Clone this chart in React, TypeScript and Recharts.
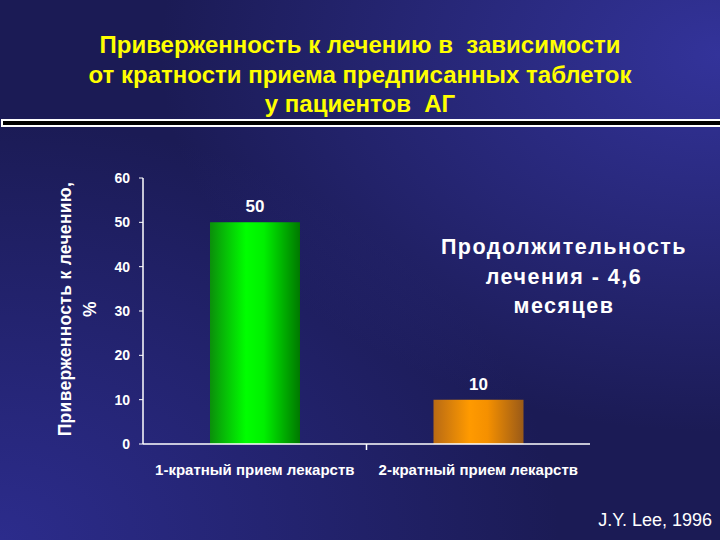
import React from 'react';
import { BarChart, Bar, XAxis, YAxis, LabelList, Cell } from 'recharts';

const categories = ['1-кратный прием лекарств', '2-кратный прием лекарств'];
const adherence = [50, 10];
const yTicks = [0, 10, 20, 30, 40, 50, 60];
const titleLines = [
  'Приверженность к лечению в  зависимости',
  'от кратности приема предписанных таблеток',
  'у пациентов  АГ',
];
const noteLines = ['Продолжительность', 'лечения - 4,6', 'месяцев'];
const yLabelLines = ['Приверженность к лечению,', '%'];
const source = 'J.Y. Lee, 1996';

const barFills = ['url(#gGreen)', 'url(#gOrange)'];

const data = categories.map((name, i) => ({ name, value: adherence[i] }));

const font = '"Liberation Sans", Arial, sans-serif';

// category label, plus the divider tick between the two categories
const CatTick = (props: any) => {
  const { x, y, payload, index } = props;
  const half = payload?.offset ?? 0;
  return (
    <g>
      {index === 0 && half > 0 && (
        <line x1={x + half} x2={x + half} y1={y - 22} y2={y - 16} stroke="#ffffff" strokeWidth={1.5} />
      )}
      <text
        x={x}
        y={y}
        dy={9}
        textAnchor="middle"
        fill="#ffffff"
        fontSize={15}
        fontWeight="bold"
        fontFamily={font}
      >
        {payload.value}
      </text>
    </g>
  );
};

export default function App() {
  return (
    <div
      style={{
        position: 'absolute',
        left: 0,
        top: 0,
        width: 720,
        height: 540,
        overflow: 'hidden',
        fontFamily: font,
        background:
          'radial-gradient(ellipse at 100% 10%, #33339a 0%, rgba(40,40,130,0) 55%), radial-gradient(ellipse at 0% 100%, #2c2c8c 0%, rgba(40,40,130,0) 55%), #1b1b55',
      }}
    >
      {/* title */}
      <div style={{ position: 'absolute', top: 30, left: 0, width: 720, textAlign: 'center' }}>
        {titleLines.map((t, i) => (
          <div
            key={i}
            style={{ color: '#ffff00', fontWeight: 'bold', fontSize: 24, lineHeight: '29.5px', whiteSpace: 'pre' }}
          >
            {t}
          </div>
        ))}
      </div>

      {/* separator */}
      <div style={{ position: 'absolute', top: 119, left: 1, width: 719, height: 8, background: '#ffffff' }} />
      <div style={{ position: 'absolute', top: 121, left: 3, width: 717, height: 4, background: '#000000' }} />

      <div style={{ position: 'absolute', left: 0, top: 0 }}>
        <BarChart width={720} height={540} data={data} margin={{ top: 178, right: 130, bottom: 66, left: 83 }}>
          <defs>
            <linearGradient id="gGreen" x1="0" y1="0" x2="1" y2="0">
              <stop offset="0%" stopColor="#0b8f0b" />
              <stop offset="40%" stopColor="#00ff00" />
              <stop offset="60%" stopColor="#00f000" />
              <stop offset="100%" stopColor="#007800" />
            </linearGradient>
            <linearGradient id="gOrange" x1="0" y1="0" x2="1" y2="0">
              <stop offset="0%" stopColor="#b86a14" />
              <stop offset="40%" stopColor="#ff9a00" />
              <stop offset="60%" stopColor="#f59000" />
              <stop offset="100%" stopColor="#9a5a18" />
            </linearGradient>
          </defs>
          <XAxis
            dataKey="name"
            height={30}
            axisLine={{ stroke: '#ffffff', strokeWidth: 1.5 }}
            tickLine={false}
            tickMargin={16}
            tick={<CatTick />}
            interval={0}
          />
          <YAxis
            width={60}
            domain={[0, 60]}
            ticks={yTicks}
            interval={0}
            stroke="#ffffff"
            axisLine={{ stroke: '#ffffff', strokeWidth: 1.5 }}
            tickSize={4}
            tickMargin={9}
            fontSize={14}
            tick={{ fill: '#ffffff', fontSize: 14, fontWeight: 'bold', fontFamily: font }}
          />
          <Bar dataKey="value" barSize={90} isAnimationActive={false}>
            {data.map((d, i) => (
              <Cell key={d.name} fill={barFills[i]} />
            ))}
            <LabelList
              dataKey="value"
              position="top"
              offset={10}
              fill="#ffffff"
              fontSize={17}
              fontWeight="bold"
              fontFamily={font}
            />
          </Bar>
        </BarChart>
      </div>

      {/* y axis title */}
      <div
        style={{
          position: 'absolute',
          left: 78 - 150,
          top: 309 - 25,
          width: 300,
          height: 50,
          transform: 'rotate(-90deg)',
          textAlign: 'center',
          color: '#ffffff',
          fontWeight: 'bold',
          fontSize: 17.5,
          lineHeight: '25px',
          letterSpacing: 0.3,
        }}
      >
        {yLabelLines.map((t, i) => (
          <div key={i}>{t}</div>
        ))}
      </div>

      {/* note */}
      <div style={{ position: 'absolute', left: 414, top: 233, width: 300, textAlign: 'center' }}>
        {noteLines.map((t, i) => (
          <div
            key={i}
            style={{ color: '#ffffff', fontWeight: 'bold', fontSize: 21.5, lineHeight: '29.5px', letterSpacing: 1.5 }}
          >
            {t}
          </div>
        ))}
      </div>

      {/* source */}
      <div style={{ position: 'absolute', right: 8, top: 510, color: '#ffffff', fontSize: 18 }}>{source}</div>
    </div>
  );
}
